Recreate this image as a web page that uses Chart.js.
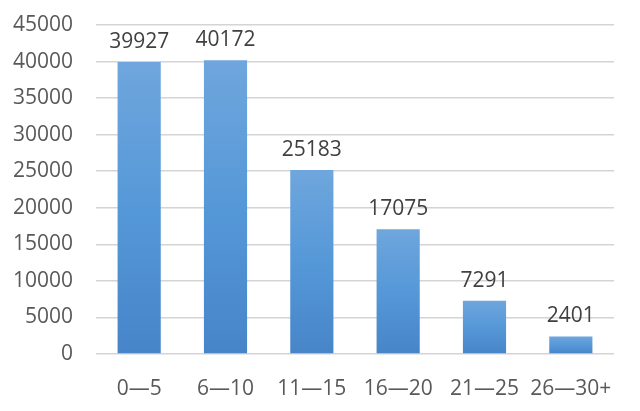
<!DOCTYPE html>
<html lang="zh-CN">
<head>
    <meta charset="utf-8">
    <title>Bar Chart</title>
    <script src="https://cdn.jsdelivr.net/npm/chart.js@4.4.1/dist/chart.umd.min.js"></script>
</head>
<style>
    body { margin: 0; background: #fff; }
    #holder { width: 640px; height: 411px; }
</style>
<body>
<div id="holder">
    <canvas id="chart"></canvas>
</div>
<script>
    let categories = ['0\u20145', '6\u201410', '11\u201415', '16\u201420', '21\u201425', '26\u201430+'];
    let counts = [39927, 40172, 25183, 17075, 7291, 2401];
    let yMax = 45000;
    let yStep = 5000;

    const FONT = '"Open Sans", "Noto Sans", sans-serif';

    // per-bar vertical gradient, lighter on top
    let barFill = function (context) {
        let chart = context.chart;
        let y = chart.scales && chart.scales.y;
        if (!y || context.raw === undefined) return '#5b9bd5';
        let top = y.getPixelForValue(context.raw);
        let bottom = y.getPixelForValue(0);
        if (!isFinite(top) || !isFinite(bottom) || top === bottom) return '#5b9bd5';
        let g = chart.ctx.createLinearGradient(0, top, 0, bottom);
        g.addColorStop(0, '#6fa6dd');
        g.addColorStop(0.5, '#5598d8');
        g.addColorStop(1, '#4785c8');
        return g;
    };

    // value labels above bars
    const valueLabels = {
        id: 'valueLabels',
        afterDatasetsDraw(chart) {
            let ctx = chart.ctx;
            let meta = chart.getDatasetMeta(0);
            ctx.save();
            ctx.font = '21px ' + FONT;
            ctx.fillStyle = '#404040';
            ctx.textAlign = 'center';
            ctx.textBaseline = 'alphabetic';
            meta.data.forEach(function (bar, i) {
                ctx.fillText(String(chart.data.datasets[0].data[i]), bar.x, bar.y - 14);
            });
            ctx.restore();
        }
    };

    const config = {
        type: 'bar',
        data: {
            labels: categories,
            datasets: [{
                data: counts,
                backgroundColor: barFill,
                borderWidth: 0,
                categoryPercentage: 1,
                barPercentage: 0.5
            }]
        },
        options: {
            responsive: true,
            maintainAspectRatio: false,
            animation: false,
            layout: {
                padding: { left: 0, right: 26, top: 0, bottom: 0 }
            },
            plugins: {
                legend: { display: false },
                tooltip: { enabled: false }
            },
            scales: {
                x: {
                    grid: { display: false },
                    border: { display: false },
                    ticks: {
                        color: '#595959',
                        font: { family: FONT, size: 21 },
                        padding: 14,
                        maxRotation: 0,
                        autoSkip: false
                    },
                    afterFit: function (scale) { scale.height = 57; }
                },
                y: {
                    min: 0,
                    max: yMax,
                    grid: { color: '#d4d4d4', lineWidth: 1.5, drawTicks: false },
                    border: { display: false },
                    ticks: {
                        stepSize: yStep,
                        color: '#595959',
                        font: { family: FONT, size: 21 },
                        padding: 23,
                        callback: function (v) { return String(v); }
                    },
                    afterFit: function (scale) {
                        scale.width = 96;
                        scale.paddingTop = 25;
                        scale.paddingBottom = 0;
                    }
                }
            }
        },
        plugins: [valueLabels]
    };

    new Chart(document.getElementById('chart').getContext('2d'), config);
</script>
</body>
</html>
